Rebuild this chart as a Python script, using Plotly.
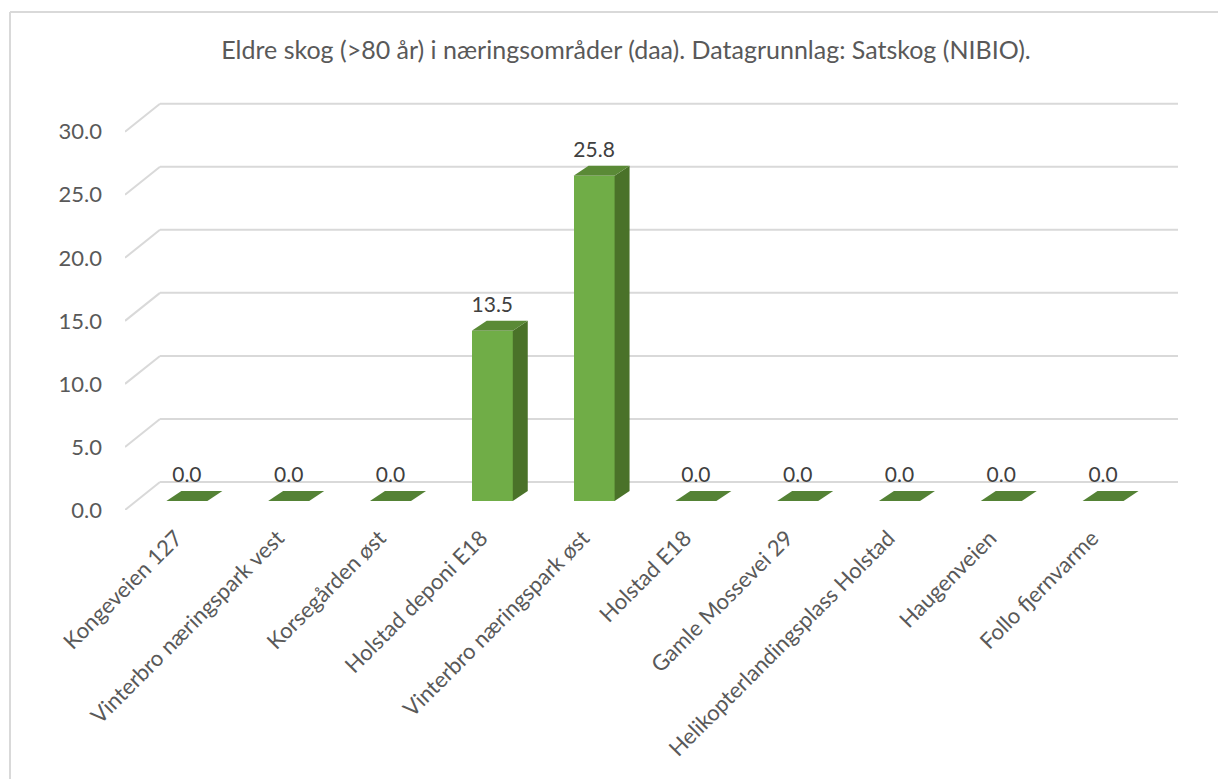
import plotly.graph_objects as go

# ---- data ----
categories = ["Kongeveien 127", "Vinterbro næringspark vest", "Korsegården øst",
              "Holstad deponi E18", "Vinterbro næringspark øst", "Holstad E18",
              "Gamle Mossevei 29", "Helikopterlandingsplass Holstad", "Haugenveien",
              "Follo fjernvarme"]
values = [0.0, 0.0, 0.0, 13.5, 25.8, 0.0, 0.0, 0.0, 0.0, 0.0]
y_ticks = [0, 5, 10, 15, 20, 25, 30]
title_text = "Eldre skog (>80 år) i næringsområder (daa). Datagrunnlag: Satskog (NIBIO)."

# ---- pseudo-3D geometry (in axis units) ----
OFF = 8  # default body margin of the html page
W, H = 1226 - OFF, 779 - OFF
ML, MR, MT, MB = 125 - OFF, 48, 100 - OFF, 269
WALL_DX, WALL_DY = 0.344, 2.22     # depth of the back wall
BAR_OX, BAR_OY = 0.108, 0.714      # bar front face offset from front plane
BAR_DX, BAR_DY = 0.147, 0.793      # bar depth
BAR_W = 0.403
LABEL_PAD = 0.3
XMIN, XMAX = -0.5, len(categories) - 0.5 + WALL_DX
YMAX = (H - MB - MT) / 12.61

FRONT = "#70AD47"
TOP = "#5A8A36"
SIDE = "#4A7229"
FLAT = "#548235"
GRID = "#D9D9D9"
TXT = "#595959"
FONT = "Lato"

idx = list(range(len(categories)))
fig = go.Figure()

# gridlines: back wall + left diagonal (below traces)
for t in y_ticks:
    fig.add_shape(type="line", x0=XMIN, y0=t, x1=XMIN + WALL_DX, y1=t + WALL_DY,
                  line=dict(color=GRID, width=2), layer="below")
    fig.add_shape(type="line", x0=XMIN + WALL_DX, y0=t + WALL_DY, x1=XMAX, y1=t + WALL_DY,
                  line=dict(color=GRID, width=2), layer="below")

# bars: side and top faces
for i, v in zip(idx, values):
    xl = i + BAR_OX - BAR_W / 2
    xr = i + BAR_OX + BAR_W / 2
    b = BAR_OY
    top = b + v
    if v > 0:
        fig.add_trace(go.Scatter(
            x=[xr, xr, xr + BAR_DX, xr + BAR_DX, xr],
            y=[b, top, top + BAR_DY, b + BAR_DY, b],
            fill="toself", fillcolor=SIDE, mode="lines", line=dict(width=0, color=SIDE),
            hoverinfo="skip", showlegend=False))
    fig.add_trace(go.Scatter(
        x=[xl, xr, xr + BAR_DX, xl + BAR_DX, xl],
        y=[top, top, top + BAR_DY, top + BAR_DY, top],
        fill="toself", fillcolor=TOP if v > 0 else FLAT, mode="lines",
        line=dict(width=0, color=TOP), hoverinfo="skip", showlegend=False))

# front faces
fig.add_trace(go.Bar(x=[i + BAR_OX for i in idx], y=values, base=BAR_OY, width=BAR_W,
                     marker=dict(color=FRONT, line=dict(width=0)), showlegend=False,
                     hoverinfo="skip"))

# data labels
fig.add_trace(go.Scatter(
    x=[i + BAR_OX for i in idx], y=[v + BAR_OY + BAR_DY + LABEL_PAD for v in values],
    mode="text", text=[f"{v:.1f}" for v in values], textposition="top center",
    textfont=dict(family=FONT, size=21, color="#404040"),
    hoverinfo="skip", showlegend=False, cliponaxis=False))

# outer frame (left + top)
px = lambda p: (p - ML) / (W - ML - MR)
py = lambda p: (H - MB - p) / (H - MT - MB)
fig.add_shape(type="line", xref="paper", yref="paper", x0=px(10 - OFF), x1=px(10 - OFF),
              y0=py(12 - OFF), y1=py(H + 5), line=dict(color=GRID, width=2))
fig.add_shape(type="line", xref="paper", yref="paper", x0=px(10 - OFF), x1=px(W + 5),
              y0=py(12 - OFF), y1=py(12 - OFF), line=dict(color=GRID, width=2))

fig.update_layout(
    width=W, height=H,
    margin=dict(l=ML, r=MR, t=MT, b=MB, autoexpand=False),
    paper_bgcolor="white", plot_bgcolor="white",
    bargap=0,
    title=dict(text=title_text, x=(626 - OFF) / W, xanchor="center",
               y=1 - (50 - OFF) / H, yanchor="middle",
               font=dict(family=FONT, size=25, color=TXT)),
    xaxis=dict(range=[XMIN, XMAX], tickvals=idx, ticktext=categories, tickangle=-45,
               showgrid=False, zeroline=False, showline=False, ticks="",
               tickfont=dict(family=FONT, size=22, color=TXT), ticklabelstandoff=10),
    yaxis=dict(range=[0, YMAX], tickvals=y_ticks, tickformat=".1f",
               showgrid=False, zeroline=False, showline=False, ticks="",
               tickfont=dict(family=FONT, size=22, color=TXT), ticklabelstandoff=22),
    font=dict(family=FONT, color=TXT),
)

fig.write_html("out.html")
